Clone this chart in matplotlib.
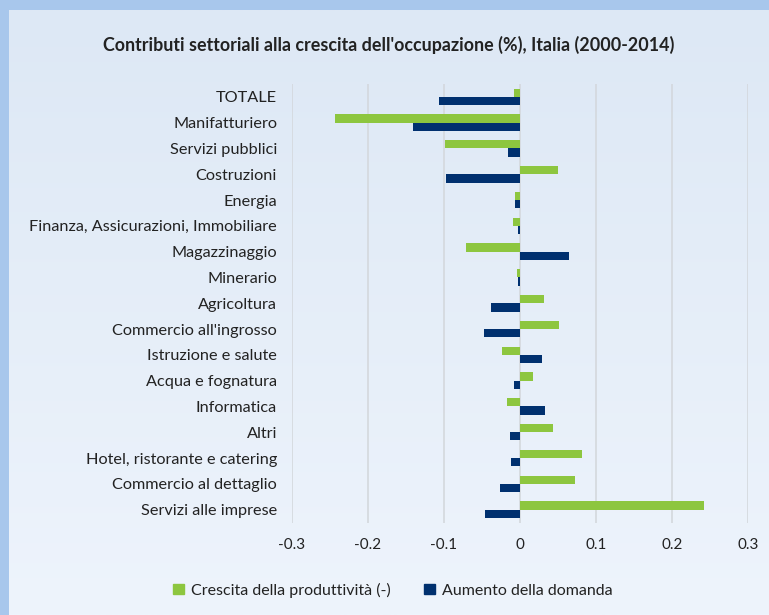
import matplotlib
matplotlib.use("Agg")
import matplotlib.pyplot as plt
import numpy as np
from matplotlib.patches import Patch
from matplotlib.colors import LinearSegmentedColormap

categories = ["TOTALE", "Manifatturiero", "Servizi pubblici", "Costruzioni", "Energia",
              "Finanza, Assicurazioni, Immobiliare", "Magazzinaggio", "Minerario",
              "Agricoltura", "Commercio all'ingrosso", "Istruzione e salute",
              "Acqua e fognatura", "Informatica", "Altri", "Hotel, ristorante e catering",
              "Commercio al dettaglio", "Servizi alle imprese"]
produttivita = [-0.008, -0.2435, -0.099, 0.050, -0.006, -0.0096, -0.071, -0.004,
                0.0315, 0.0517, -0.0237, 0.0175, -0.0167, 0.0434, 0.0815, 0.0727, 0.2414]
domanda = [-0.106, -0.140, -0.016, -0.097, -0.006, -0.003, 0.064, -0.002,
           -0.0385, -0.047, 0.0293, -0.008, 0.0329, -0.013, -0.0114, -0.0267, -0.0456]
xticks = [-0.3, -0.2, -0.1, 0, 0.1, 0.2, 0.3]
xticklabels = ["-0.3", "-0.2", "-0.1", "0", "0.1", "0.2", "0.3"]
series_names = ["Crescita della produttività (-)", "Aumento della domanda"]

GREEN = "#8dc63f"
NAVY = "#00306f"
TEXT = "#222222"
FONT = ["Lato", "DejaVu Sans"]
plt.rcParams['font.family'] = FONT

W, H = 769, 615
fig = plt.figure(figsize=(W/100, H/100), dpi=100)
fig.patch.set_facecolor("#a8c7ec")

# inner panel with gradient
bg = fig.add_axes([9/W, 0, 1 - 9/W, 1 - 10/H])
grad = np.linspace(0, 1, 256).reshape(-1, 1)
cmap = LinearSegmentedColormap.from_list("bg", ["#dde8f5", "#eef4fc"])
bg.imshow(grad, aspect="auto", cmap=cmap, extent=[0, 1, 0, 1], origin="upper")
bg.set_axis_off()

top_px, bot_px = 84, 522.5
ax = fig.add_axes([291.7/W, 1 - bot_px/H, (748.3 - 291.7)/W, (bot_px - top_px)/H])
ax.patch.set_alpha(0)
n = len(categories)
y = np.arange(n)
h = 0.32
ax.barh(y - h/2, produttivita, height=h, color=GREEN, zorder=3)
ax.barh(y + h/2, domanda, height=h, color=NAVY, zorder=3)
ax.set_ylim(n - 0.5, -0.5)
ax.set_xlim(-0.3, 0.3)
ax.set_xticks(xticks)
ax.set_xticklabels(xticklabels, fontsize=11, color=TEXT)
ax.set_yticks(y)
ax.set_yticklabels(categories, fontsize=11.7, color=TEXT)
ax.tick_params(axis="y", length=0, pad=10.5)
ax.tick_params(axis="x", length=0, pad=11.5)
ax.xaxis.grid(True, color="#d4d8dd", linewidth=1.2, zorder=0)
for s in ax.spines.values():
    s.set_visible(False)

fig.text(0.5 + 9/W/2, 1 - 45/H, "Contributi settoriali alla crescita dell'occupazione (%), Italia (2000-2014)",
         ha="center", va="center", fontsize=12.9, fontweight="bold", color=TEXT)

handles = [Patch(color=GREEN), Patch(color=NAVY)]
fig.legend(handles, series_names, loc="center", bbox_to_anchor=(393/W, 1 - 590/H),
           ncol=2, frameon=False, fontsize=11.5, handlelength=0.65, handleheight=0.65,
           columnspacing=2.1, handletextpad=0.45, labelcolor=TEXT)

fig.savefig("out.png", dpi=100)
